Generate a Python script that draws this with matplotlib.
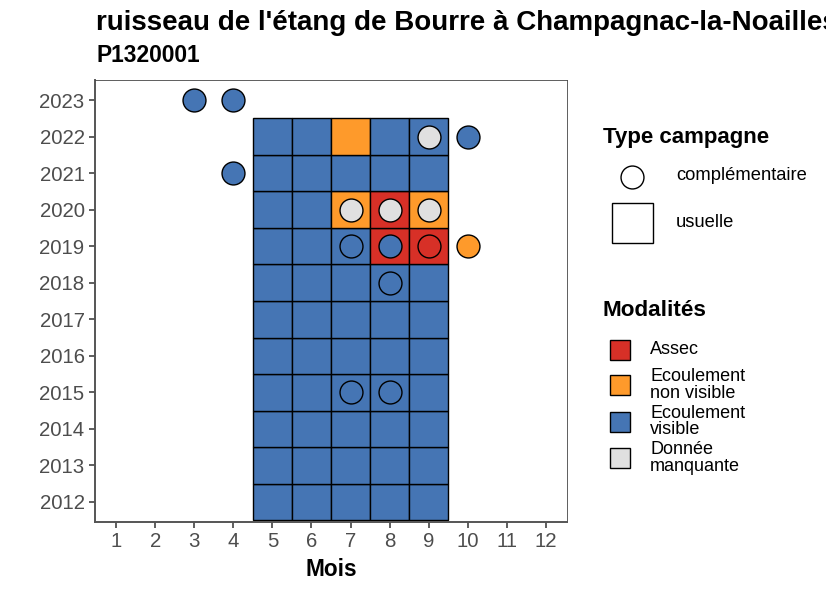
import matplotlib.pyplot as plt
from matplotlib.patches import Rectangle
from matplotlib.lines import Line2D

plt.rcParams['font.family'] = ['Liberation Sans', 'DejaVu Sans']

# data
months = [1, 2, 3, 4, 5, 6, 7, 8, 9, 10, 11, 12]
years = list(range(2012, 2024))

# usual campaigns: months 5..9 for each year 2012..2022
usual_months = [5, 6, 7, 8, 9]
usual_years = list(range(2012, 2023))
# V = écoulement visible, N = écoulement non visible, A = assec, M = donnée manquante
usual_modal = {
    2012: ['V', 'V', 'V', 'V', 'V'],
    2013: ['V', 'V', 'V', 'V', 'V'],
    2014: ['V', 'V', 'V', 'V', 'V'],
    2015: ['V', 'V', 'V', 'V', 'V'],
    2016: ['V', 'V', 'V', 'V', 'V'],
    2017: ['V', 'V', 'V', 'V', 'V'],
    2018: ['V', 'V', 'V', 'V', 'V'],
    2019: ['V', 'V', 'V', 'A', 'A'],
    2020: ['V', 'V', 'N', 'A', 'N'],
    2021: ['V', 'V', 'V', 'V', 'V'],
    2022: ['V', 'V', 'N', 'V', 'V'],
}

# complementary campaigns
comp_years = [2023, 2023, 2022, 2022, 2021, 2020, 2020, 2020, 2019, 2019, 2019, 2019, 2018, 2015, 2015]
comp_months = [3, 4, 9, 10, 4, 7, 8, 9, 7, 8, 9, 10, 8, 7, 8]
comp_modal = ['V', 'V', 'M', 'V', 'V', 'M', 'M', 'M', 'V', 'V', 'A', 'N', 'V', 'V', 'V']

modal_codes = ['A', 'N', 'V', 'M']
modal_labels = ['Assec', 'Ecoulement\nnon visible', 'Ecoulement\nvisible', 'Donnée\nmanquante']
modal_colors = {'A': '#D73027', 'N': '#FE9A2B', 'V': '#4575B4', 'M': '#E0E0E0'}

W, H = 826, 590
fig = plt.figure(figsize=(W / 100, H / 100), dpi=100)
ax = fig.add_axes([95 / W, 1 - 521.7 / H, (567 - 95) / W, (521.7 - 80) / H])

# tiles
for y in usual_years:
    for m, code in zip(usual_months, usual_modal[y]):
        ax.bar(m, 1, bottom=y - 0.5, width=1, color=modal_colors[code],
               edgecolor='black', linewidth=1.0, zorder=2)

# circles
for y, m, code in zip(comp_years, comp_months, comp_modal):
    ax.plot(m, y, 'o', ms=16.5, mfc=modal_colors[code], mec='black', mew=1.0, zorder=3)

ax.set_xlim(0.46, 12.54)
ax.set_ylim(2011.46, 2023.55)
ax.set_xticks(months)
ax.set_yticks(years)
ax.tick_params(axis='both', labelsize=14.7, labelcolor='#4D4D4D', color='#333333',
               length=4, width=1.1)
for side in ['left', 'bottom']:
    ax.spines[side].set_color('#555555')
    ax.spines[side].set_linewidth(1.4)
for side in ['top', 'right']:
    ax.spines[side].set_color('#444444')
    ax.spines[side].set_linewidth(0.6)
ax.set_xlabel('Mois', fontsize=16.3, fontweight='bold', labelpad=5)

# titles
fig.text(96 / W, 1 - 30 / H, "ruisseau de l'étang de Bourre à Champagnac-la-Noailles",
         fontsize=20, fontweight='bold', va='baseline', ha='left')
fig.text(96 / W, 1 - 62 / H, 'P1320001', fontsize=16.4, fontweight='bold',
         va='baseline', ha='left')

# legend: type campagne
fig.text(603 / W, 1 - 137 / H, 'Type campagne', fontsize=16, fontweight='bold', va='center')
fig.add_artist(Line2D([631.5 / W], [1 - 176.5 / H], marker='o', ms=16.5, mfc='white',
                      mec='black', mew=1.0, transform=fig.transFigure))
fig.text(676 / W, 1 - 176 / H, 'complémentaire', fontsize=13.2, va='center')
fig.add_artist(Rectangle((612 / W, 1 - 243.3 / H), 40.6 / W, 40.6 / H, facecolor='white',
                         edgecolor='black', linewidth=1.0, transform=fig.transFigure))
fig.text(676 / W, 1 - 223 / H, 'usuelle', fontsize=13.2, va='center')

# legend: modalités
fig.text(603 / W, 1 - 310 / H, 'Modalités', fontsize=16.2, fontweight='bold', va='center')
leg_y = [349.5, 385, 421.7, 458]
for code, lab, yc in zip(modal_codes, modal_labels, leg_y):
    fig.add_artist(Rectangle((610 / W, 1 - (yc + 10) / H), 20 / W, 20 / H,
                             facecolor=modal_colors[code], edgecolor='black',
                             linewidth=1.0, transform=fig.transFigure))
    fig.text(650 / W, 1 - yc / H, lab, fontsize=13, va='center', linespacing=0.95)

fig.savefig('out.png', dpi=100)
